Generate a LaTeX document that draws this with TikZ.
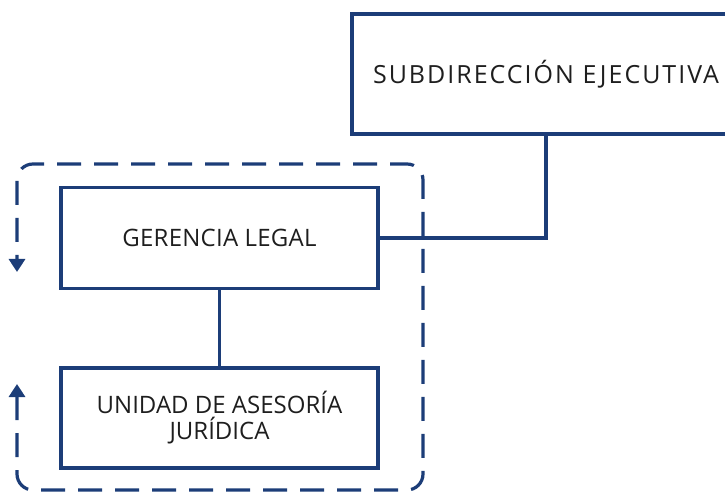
\documentclass[tikz,border=0pt]{standalone}
\usepackage{fontspec}
\setmainfont{Open Sans}
\usetikzlibrary{arrows.meta}
\definecolor{navy}{HTML}{1C3D78}
\definecolor{ink}{HTML}{1E1E1E}
\tikzset{
  unitbox/.style={draw=navy, line width=3.2pt, text=ink, align=center, inner sep=0pt},
  link/.style={draw=navy, line width=3.2pt},
  loopline/.style={draw=navy, line width=3.2pt, dash pattern=on 24pt off 13pt,
    rounded corners=16pt, {Triangle[width=16pt,length=13pt]}-{Triangle[width=16pt,length=13pt]}}
}
\begin{document}
\begin{tikzpicture}[x=1pt, y=-1pt]
        \useasboundingbox (0,0) rectangle (725,494);
        \clip (0,0) rectangle (725,494);
        \node[unitbox, minimum width=388pt, minimum height=120pt, font=\fontsize{25}{29}\selectfont\addfontfeatures{LetterSpace=8}] (sub) at (546, 74) {SUBDIRECCIÓN EJECUTIVA};
        \node[unitbox, minimum width=317pt, minimum height=101pt, font=\fontsize{24}{28}\selectfont\addfontfeatures{LetterSpace=1}] (ger) at (219.5, 238) {GERENCIA LEGAL};
        \node[unitbox, minimum width=317pt, minimum height=100pt, font=\fontsize{24}{26}\selectfont] (uni) at (219.5, 418) {UNIDAD DE ASESORÍA\\JURÍDICA};
        \draw[link] (sub.south) |- (ger.east);
        \draw[link] (ger) -- (uni);
        \draw[loopline] (17, 384) -- (17, 490) -- (423, 490) -- (423, 164) -- (17, 164) -- (17, 272);
    \end{tikzpicture}
\end{document}
